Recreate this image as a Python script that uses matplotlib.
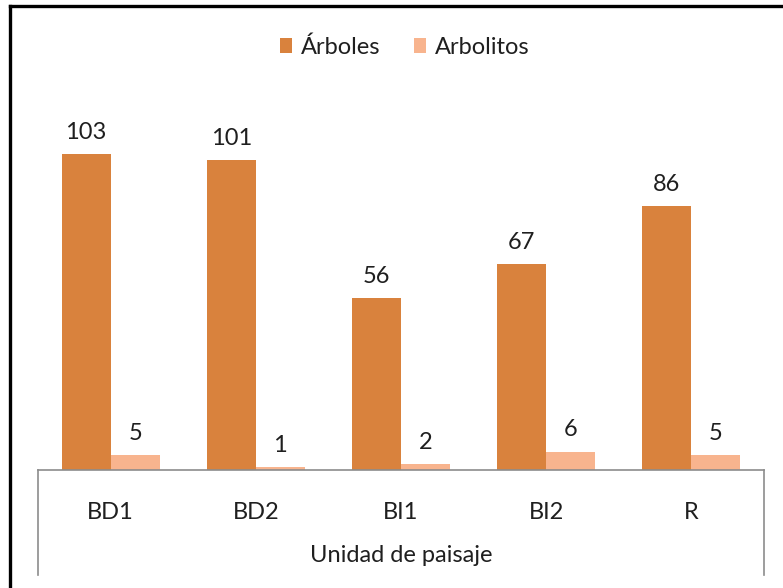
import matplotlib
matplotlib.use("Agg")
import matplotlib.pyplot as plt
from matplotlib.lines import Line2D
import numpy as np

categories = ["BD1", "BD2", "BI1", "BI2", "R"]
arboles = [103, 101, 56, 67, 86]
arbolitos = [5, 1, 2, 6, 5]
series_names = ["Árboles", "Arbolitos"]
x_label = "Unidad de paisaje"

c_arb = "#D9823D"
c_arbol = "#F8B48E"

plt.rcParams['font.family'] = ['Lato', 'DejaVu Sans']
W, H = 783, 588
fig = plt.figure(figsize=(W/100, H/100), dpi=100)

def fx(px):
    return px / W

def fy(py):
    return 1 - py / H

ax_left, ax_right, ax_bottom, ax_top = 38, 764, 470, 100
ax = fig.add_axes([fx(ax_left), fy(ax_bottom), fx(ax_right - ax_left), (ax_bottom - ax_top) / H])
px_per_unit = 316 / 103
ax.set_ylim(0, (ax_bottom - ax_top) / px_per_unit)
ax.set_xlim(-0.5, len(categories) - 0.5)

x = np.arange(len(categories))
w = 0.3375
b1 = ax.bar(x - w/2, arboles, w, color=c_arb, label=series_names[0])
b2 = ax.bar(x + w/2, arbolitos, w, color=c_arbol, label=series_names[1])
ax.bar_label(b1, padding=8, fontsize=17, color="#1F1F1F")
ax.bar_label(b2, padding=8, fontsize=17, color="#1F1F1F")

for s in ["top", "left", "right"]:
    ax.spines[s].set_visible(False)
ax.spines["bottom"].set_color("#8C8C8C")
ax.spines["bottom"].set_linewidth(1.2)
ax.set_yticks([])
ax.set_xticks(x)
ax.set_xticklabels(categories, fontsize=17, color="#1F1F1F")
ax.tick_params(axis="x", length=0, pad=23)

fig.text(fx(401), fy(555), x_label, ha="center", va="center", fontsize=17, color="#1F1F1F")

# category box lines
for xp in (ax_left, ax_right):
    fig.add_artist(Line2D([fx(xp), fx(xp)], [fy(ax_bottom), fy(575)], color="#8C8C8C", lw=1.2))

# outer frame
fig.add_artist(Line2D([fx(9.5), fx(783)], [fy(6), fy(6)], color="black", lw=2.4))
fig.add_artist(Line2D([fx(9.5), fx(9.5)], [fy(6), fy(588)], color="black", lw=2.4))

fig.legend(loc="center", bbox_to_anchor=(fx(405), fy(47)), ncol=2, frameon=False,
           fontsize=17, handlelength=0.5, handleheight=0.65, handletextpad=0.4,
           columnspacing=1.4, labelcolor="#1F1F1F")

fig.savefig("out.png", dpi=100)
